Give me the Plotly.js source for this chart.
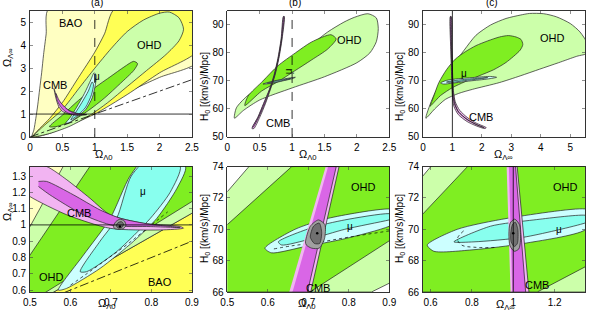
<!DOCTYPE html>
<html><head><meta charset="utf-8">
<script src="https://cdn.plot.ly/plotly-3.0.1.min.js"></script>
<style>body{margin:0;background:#fff}#c{width:590px;height:312px}</style>
</head><body><div id="c"></div>
<script>
// ---------- Panel (a): Omega_L0 vs Omega_Linf ----------
const a_baoOuterX=[0.03,0.06,0.09,0.12,0.15,0.18,0.21,0.25,0.29,2.6,2.6,2.0,1.5,1.0,0.5,0.2,0.03];
const a_baoOuterY=[0,0.3,0.8,1.4,2.1,2.8,3.6,4.5,5.6,5.6,3.3,2.6,1.95,1.25,0.55,0.15,0];
const a_baoInnerX=[0.04,0.3,0.5,0.75,1.0,1.15,1.31,2.6,2.6,2.0,1.5,1.0,0.6,0.3,0.04];
const a_baoInnerY=[0,0.8,1.5,2.6,3.7,4.5,5.6,5.6,3.8,2.8,1.85,1.0,0.5,0.15,0];
const a_ohdOuterX=[0.05,0.2,0.5,0.75,1.0,1.25,1.5,1.75,2.0,2.15,2.3,2.37,2.3,2.1,1.8,1.5,1.2,0.9,0.6,0.3,0.05];
const a_ohdOuterY=[0.02,0.45,1.2,2.1,3.0,3.85,4.6,5.1,5.4,5.45,5.2,4.7,4.2,3.6,2.9,2.2,1.5,0.9,0.45,0.15,0.02];
const a_ohdInnerX=[0.3,0.5,0.75,1.0,1.25,1.45,1.6,1.66,1.6,1.4,1.15,0.9,0.65,0.4,0.3];
const a_ohdInnerY=[0.45,0.95,1.6,2.15,2.65,3.05,3.3,3.2,2.9,2.35,1.7,1.15,0.7,0.45,0.45];
const a_muOuterX=[0.55,0.62,0.72,0.84,0.94,0.99,1.02,1.01,0.96,0.86,0.72,0.6,0.55];
const a_muOuterY=[0.6,0.85,1.3,1.9,2.5,2.8,2.7,2.3,1.7,1.2,0.85,0.62,0.6];
const a_muInnerX=[0.63,0.7,0.8,0.9,0.96,0.98,0.95,0.86,0.74,0.63];
const a_muInnerY=[0.75,1.05,1.5,2.0,2.4,2.3,1.85,1.3,0.95,0.75];
const a_cmbOuterX=[0.37,0.42,0.5,0.6,0.7,0.8,0.88,0.8,0.7,0.6,0.5,0.44,0.4,0.37];
const a_cmbOuterY=[2.12,1.7,1.38,1.17,1.05,1.0,0.98,0.95,0.95,1.0,1.12,1.35,1.7,2.12];
const a_cmbInnerX=[0.4,0.45,0.52,0.6,0.7,0.8,0.86,0.8,0.7,0.6,0.52,0.46,0.42,0.4];
const a_cmbInnerY=[1.9,1.6,1.35,1.15,1.03,0.985,0.975,0.965,0.97,1.03,1.17,1.38,1.6,1.9];

// ---------- Panel (b): Omega_L0 vs H0 ----------
const b_ohdOuterX=[0.11,0.14,0.3,0.53,0.8,1.04,1.3,1.55,1.8,1.96,2.17,2.3,2.33,2.3,2.2,2.0,1.5,1.0,0.5,0.25,0.11];
const b_ohdOuterY=[56.7,60.4,64.5,68.2,73.3,78.4,83,87.5,91,92.7,94.0,92.5,88.7,84,80,76.5,71.5,67.5,63.2,59.5,56.7];
const b_ohdInnerX=[0.27,0.32,0.55,0.78,1.05,1.3,1.6,1.68,1.55,1.3,1.04,0.8,0.53,0.27];
const b_ohdInnerY=[61.2,64.6,70,75.4,80,83.9,86.5,85,81.4,77.5,73.6,70,66.4,61.2];
const b_muOuterX=[0.55,0.7,0.85,1.0,1.05,1.0,0.85,0.7,0.55];
const b_muOuterY=[68.9,69.9,70.6,71.2,71.3,70.8,70.0,69.2,68.9];
const b_muInnerX=[0.62,0.75,0.9,0.98,0.9,0.75,0.62];
const b_muInnerY=[69.2,70.0,70.6,70.9,70.4,69.6,69.2];
const b_cmbOuterX=[0.38,0.47,0.56,0.65,0.72,0.78,0.83,0.865,0.88,0.845,0.795,0.735,0.665,0.59,0.5,0.41,0.38];
const b_cmbOuterY=[53,57,62,67,72,78,85,93,93,85,78,72,67,62,57,53,53];
const b_cmbInnerX=[0.39,0.48,0.565,0.655,0.725,0.785,0.835,0.87,0.875,0.84,0.79,0.73,0.66,0.58,0.49,0.4,0.39];
const b_cmbInnerY=[53.5,57.3,62,67,72,78,85,93,93,85,78,72,67,62,57.3,53.5,53.5];

// ---------- Panel (c): Omega_Linf vs H0 ----------
const c_ohdOuterX=[0.1,0.31,0.6,1.0,1.4,1.8,2.3,2.82,3.3,3.62,4.1,4.53,5.0,5.33,5.6,5.6,5.22,4.6,3.96,3.3,2.59,1.68,1.2,0.76,0.4,0.1];
const c_ohdOuterY=[56.7,63.4,69.5,75.4,81,86.3,90,92.3,93.5,94.1,94,92.9,90.5,87.5,83,80,78.8,76.5,74.2,71.8,69.4,67,65.5,63.4,60,56.7];
const c_ohdInnerX=[0.25,0.35,0.54,0.8,1.1,1.45,1.8,2.2,2.6,2.9,3.16,3.33,3.39,3.3,2.82,2.4,1.9,1.4,1.0,0.6,0.31,0.25];
const c_ohdInnerY=[61,64,69.4,74,77.8,80.5,82.6,84.3,85.7,86.2,85.7,84.8,83,81,76.6,74,71.8,69.6,67.6,64.8,61.6,61];
const c_muOuterX=[0.6,0.8,1.2,1.8,2.3,2.5,2.2,1.6,1.0,0.7,0.6];
const c_muOuterY=[69.3,70.2,70.8,71.3,71.6,71.3,70.7,70.0,69.2,68.9,69.3];
const c_muInnerX=[0.8,1.2,1.8,2.2,1.9,1.4,1.0,0.8];
const c_muInnerY=[69.6,70.3,70.9,71.2,70.7,70.1,69.5,69.6];
const c_cmbOuterX=[0.93,0.95,0.98,1.0,1.05,1.2,1.5,1.8,2.1,2.15,1.8,1.5,1.25,1.1,1.04,1.01,0.98,0.96,0.93];
const c_cmbOuterY=[93,80,70,65,61,58,55.5,54,53,53.3,55,57,59.5,62.5,66,72,82,93,93];
const c_cmbInnerX=[0.94,0.96,0.99,1.01,1.07,1.2,1.5,1.8,2.08,1.8,1.5,1.22,1.09,1.03,1.0,0.97,0.95,0.94];
const c_cmbInnerY=[93,80,70,65.5,61.8,59,56.2,54.5,53.3,54.5,56.3,58.8,61.8,66,72,82,93,93];

// ---------- Panel (a2) zoom ----------
const a2_paleX=[0.4,1.0,1.0,0.4], a2_paleY=[0.4,0.4,1.5,1.5];
const a2_ohdOuterX=[0.45,0.6,0.95,0.95,0.45], a2_ohdOuterY=[0.765,1.44,1.44,1.143,0.434];
const a2_ohdInnerX=[0.48,0.68,0.95,0.95,0.48], a2_ohdInnerY=[0.741,1.477,1.477,1.221,0.496];
const a2_baoInnerX=[0.45,0.95,0.95,0.45], a2_baoInnerY=[0.434,1.143,0.4,0.4];
const a2_muOuterX=[0.57,0.632,0.698,0.747,0.79,0.884,0.863,0.813,0.756,0.673,0.59,0.57];
const a2_muOuterY=[0.60,0.815,1.04,1.3,1.42,1.36,1.225,1.04,0.9,0.733,0.61,0.60];
const a2_muInnerX=[0.624,0.673,0.714,0.75,0.8,0.871,0.846,0.797,0.714,0.64,0.624];
const a2_muInnerY=[0.713,0.9,1.04,1.3,1.42,1.36,1.2,1.04,0.836,0.713,0.713];
const a2_muDotX=[0.6,0.64,0.69,0.74,0.79,0.84];
const a2_muDotY=[0.63,0.7,0.79,0.88,0.98,1.08];
const a2_cmbOuterX=[0.46,0.541,0.591,0.648,0.698,0.78,0.871,0.879,0.822,0.698,0.591,0.5,0.46];
const a2_cmbOuterY=[1.4,1.359,1.277,1.164,1.062,1.01,0.99,0.98,0.969,0.979,1.062,1.174,1.25];
const a2_cmbInnerX=[0.521,0.541,0.607,0.673,0.723,0.797,0.871,0.797,0.706,0.632,0.549,0.521];
const a2_cmbInnerY=[1.267,1.267,1.185,1.092,1.041,1.004,0.984,0.99,0.996,1.062,1.185,1.236];
const a2_grayX=[0.706,0.712,0.722,0.733,0.737,0.731,0.72,0.709,0.706];
const a2_grayY=[0.99,1.02,1.035,1.025,0.995,0.978,0.972,0.978,0.99];
const a2_dgrayX=[0.713,0.718,0.726,0.731,0.727,0.719,0.713];
const a2_dgrayY=[0.995,1.015,1.02,1.005,0.985,0.98,0.995];

// ---------- Panel (b2) zoom ----------
const b2_ohdOuterX=[0.45,0.5,0.56,0.95,0.95,0.856,0.45], b2_ohdOuterY=[71.1,72.4,74.2,74.2,67.2,66,66];
const b2_ohdInnerX=[0.45,0.5,0.659,0.95,0.95,0.704,0.45], b2_ohdInnerY=[69.1,70.3,74,74.2,70.1,66,66];
const b2_muOuterX=[0.593,0.667,0.749,0.9,0.95,0.9,0.79,0.692,0.609,0.593];
const b2_muOuterY=[68.8,70.0,70.7,71.3,71.0,70.2,69.4,68.9,68.5,68.8];
const b2_muInnerX=[0.626,0.708,0.79,0.9,0.93,0.9,0.79,0.708,0.634,0.626];
const b2_muInnerY=[69.2,70.1,70.6,71.0,70.8,70.6,70.0,69.4,69.0,69.2];
const b2_muDotX=[0.615,0.66,0.72,0.8,0.9];
const b2_muDotY=[68.75,68.95,69.15,69.5,69.9];
const b2_cmbOuterX=[0.653,0.706,0.776,0.743], b2_cmbOuterY=[66,66,74,74];
const b2_cmbInnerX=[0.661,0.698,0.769,0.749], b2_cmbInnerY=[66,66,74,74];
const b2_grayX=[0.693,0.705,0.725,0.741,0.74,0.727,0.708,0.695,0.693];
const b2_grayY=[69.2,70.2,70.6,70.3,69.4,68.8,68.8,69.0,69.2];
const b2_dgrayX=[0.705,0.713,0.727,0.733,0.728,0.715,0.705];
const b2_dgrayY=[69.5,70.2,70.4,69.8,69.1,69.1,69.5];

// ---------- Panel (c2) zoom ----------
const c2_ohdOuterX=[0.55,0.62,1.4,1.4,0.55], c2_ohdOuterY=[73.2,74.3,74.3,66,66];
const c2_ohdInnerX=[0.5,0.777,0.8,1.4,1.4,1.116,0.5], c2_ohdInnerY=[70.1,74,74.3,74.3,67.97,66,66];
const c2_muOuterX=[0.584,0.729,0.971,1.347,1.4,1.347,1.052,0.81,0.616,0.584];
const c2_muOuterY=[69.0,70.0,70.7,71.3,71.0,69.96,69.1,68.7,68.6,69.0];
const c2_muInnerX=[0.713,0.89,1.1,1.347,1.4,1.347,1.052,0.81,0.713];
const c2_muInnerY=[69.2,70.2,70.6,70.9,70.7,70.4,69.5,69.2,69.2];
const c2_muDotX=[0.76,0.73,0.75,0.82,0.92];
const c2_muDotY=[69.9,69.4,69.0,68.85,68.85];
const c2_cmbOuterX=[0.968,1.019,1.076,0.987], c2_cmbOuterY=[74,74,66,66];
const c2_cmbInnerX=[0.979,1.011,1.06,0.995], c2_cmbInnerY=[74,74,66,66];
const c2_grayX=[0.979,0.985,1.007,1.03,1.035,1.027,1.005,0.984,0.979];
const c2_grayY=[69.7,70.4,70.65,70.3,69.3,68.75,68.6,68.95,69.7];
const c2_dgrayX=[0.988,0.996,1.01,1.022,1.02,1.005,0.99,0.988];
const c2_dgrayY=[69.7,70.3,70.45,70.0,69.1,68.9,69.2,69.7];

// centre points
const bestX=[0.722,0.722,1.0], bestY=[0.99,69.75,69.75];

// tick labels
const tA_x=[0,0.5,1,1.5,2,2.5], tA_y=[0,1,2,3,4,5];
const tH_y=[50,60,70,80,90];
const tC_x=[0,1,2,3,4,5];
const tA2_x=[0.5,0.6,0.7,0.8,0.9], tA2_y=[0.6,0.7,0.8,0.9,1,1.1,1.2,1.3];
const tH2_y=[66,68,70,72,74];
const tC2_x=[0.6,0.8,1,1.2];

const C={pale:'#FFFFC2',yel:'#FFFF55',lg:'#CCFFAA',bg:'#7FEE22',lc:'#CCFFFF',cy:'#88FFEE',lp:'#F2B4F2',vp:'#D966E6',gr:'#A0A0A0',dg:'#707070'};

const traces=[];
function poly(xs,ys,col,n,spline,lc){
  traces.push({type:'scatter',mode:'lines',x:xs,y:ys,fill:'toself',fillcolor:col,
    line:{color:lc||'#222',width:0.7,shape:spline?'spline':'linear',smoothing:0.7},
    xaxis:'x'+n,yaxis:'y'+n,hoverinfo:'skip',showlegend:false});
}
function line(xs,ys,n,dash,w,spline){
  traces.push({type:'scatter',mode:'lines',x:xs,y:ys,line:{color:'#000',width:w||0.8,dash:dash||'solid',shape:spline?'spline':'linear'},
    xaxis:'x'+n,yaxis:'y'+n,hoverinfo:'skip',showlegend:false});
}
function dot(x,y,n){traces.push({type:'scatter',mode:'markers',x:[x],y:[y],marker:{color:'#000',size:2.5},xaxis:'x'+n,yaxis:'y'+n,hoverinfo:'skip',showlegend:false});}

// (a)
poly(a_baoOuterX,a_baoOuterY,C.pale,'',true);
poly(a_baoInnerX,a_baoInnerY,C.yel,'',true);
poly(a_ohdOuterX,a_ohdOuterY,C.lg,'',true);
poly(a_ohdInnerX,a_ohdInnerY,C.bg,'',true);
poly(a_muOuterX,a_muOuterY,C.lc,'',true);
poly(a_muInnerX,a_muInnerY,C.cy,'',true);
poly(a_cmbOuterX,a_cmbOuterY,C.lp,'',true);
poly(a_cmbInnerX,a_cmbInnerY,C.vp,'',true);
line([1,1],[0,5.5],'','dash');
line([0,2.5],[1,1],'');
line([0,2.5],[0,2.5],'','dashdot');
// (b)
poly(b_ohdOuterX,b_ohdOuterY,C.lg,'2',true);
poly(b_ohdInnerX,b_ohdInnerY,C.bg,'2',true);
poly(b_muOuterX,b_muOuterY,C.lc,'2',true);
poly(b_muInnerX,b_muInnerY,C.cy,'2',true);
poly(b_cmbOuterX,b_cmbOuterY,C.lp,'2',true);
poly(b_cmbInnerX,b_cmbInnerY,C.vp,'2',true);
line([1,1],[50,95],'2','dash');
// (c)
poly(c_ohdOuterX,c_ohdOuterY,C.lg,'3',true);
poly(c_ohdInnerX,c_ohdInnerY,C.bg,'3',true);
poly(c_muOuterX,c_muOuterY,C.lc,'3',true);
poly(c_muInnerX,c_muInnerY,C.cy,'3',true);
poly(c_cmbOuterX,c_cmbOuterY,C.lp,'3',true);
poly(c_cmbInnerX,c_cmbInnerY,C.vp,'3',true);
line([1,1],[50,95],'3');
// (a2)
poly(a2_paleX,a2_paleY,C.pale,'4',false);
poly(a2_baoInnerX,a2_baoInnerY,C.yel,'4',false);
poly(a2_ohdOuterX,a2_ohdOuterY,C.lg,'4',false);
poly(a2_ohdInnerX,a2_ohdInnerY,C.bg,'4',false);
poly(a2_muOuterX,a2_muOuterY,C.lc,'4',true);
poly(a2_muInnerX,a2_muInnerY,C.cy,'4',true);
line(a2_muDotX,a2_muDotY,'4','dot',0.7,true);
poly(a2_cmbOuterX,a2_cmbOuterY,C.lp,'4',true);
poly(a2_cmbInnerX,a2_cmbInnerY,C.vp,'4',true);
poly(a2_grayX,a2_grayY,C.gr,'4',true);
poly(a2_dgrayX,a2_dgrayY,C.dg,'4',true);
line([0.5,0.9],[1,1],'4');
line([0.5,0.9],[0.5,0.9],'4','dashdot');
dot(bestX[0],bestY[0],'4');
// (b2)
poly(b2_ohdOuterX,b2_ohdOuterY,C.lg,'5',false);
poly(b2_ohdInnerX,b2_ohdInnerY,C.bg,'5',false);
poly(b2_muOuterX,b2_muOuterY,C.lc,'5',true);
poly(b2_muInnerX,b2_muInnerY,C.cy,'5',true);
line(b2_muDotX,b2_muDotY,'5','dot',0.7,true);
poly(b2_cmbOuterX,b2_cmbOuterY,C.lp,'5',false);
poly(b2_cmbInnerX,b2_cmbInnerY,C.vp,'5',false);
poly(b2_grayX,b2_grayY,C.gr,'5',true);
poly(b2_dgrayX,b2_dgrayY,C.dg,'5',true);
dot(bestX[1],bestY[1],'5');
// (c2)
poly(c2_ohdOuterX,c2_ohdOuterY,C.lg,'6',false);
poly(c2_ohdInnerX,c2_ohdInnerY,C.bg,'6',false);
poly(c2_muOuterX,c2_muOuterY,C.lc,'6',true);
poly(c2_muInnerX,c2_muInnerY,C.cy,'6',true);
line(c2_muDotX,c2_muDotY,'6','dot',0.7,true);
poly(c2_cmbOuterX,c2_cmbOuterY,C.lp,'6',false);
poly(c2_cmbInnerX,c2_cmbInnerY,C.vp,'6',false);
poly(c2_grayX,c2_grayY,C.gr,'6',true);
poly(c2_dgrayX,c2_dgrayY,C.dg,'6',true);
line([1,1],[66,74],'6');
dot(bestX[2],bestY[2],'6');

const F='Liberation Sans, Arial, sans-serif';
function ax(dom,range,tv,anchor){
  return {domain:dom,range:range,tickvals:tv,ticktext:tv.map(String),ticks:'inside',ticklen:3,tickwidth:0.6,
    mirror:'allticks',showline:true,linecolor:'#000',linewidth:0.8,showgrid:false,zeroline:false,
    tickfont:{family:F,size:10,color:'#000'},anchor:anchor,fixedrange:true,ticklabelstandoff:1};
}
const X1=[0.0508,0.3254],X2=[0.3853,0.6598],X3=[0.7168,0.9915];
const YT=[0.561,0.965],YB=[0.064,0.466];
const layout={width:590,height:312,margin:{l:0,r:0,t:0,b:0},paper_bgcolor:'#fff',plot_bgcolor:'#fff',showlegend:false,
  xaxis:ax(X1,[0,2.5],tA_x,'y'), yaxis:ax(YT,[0,5.5],tA_y,'x'),
  xaxis2:ax(X2,[0,2.5],tA_x,'y2'), yaxis2:ax(YT,[50,95],tH_y,'x2'),
  xaxis3:ax(X3,[0,5.5],tC_x,'y3'), yaxis3:ax(YT,[50,95],tH_y,'x3'),
  xaxis4:ax(X1,[0.5,0.9],tA2_x,'y4'), yaxis4:ax(YB,[0.588,1.358],tA2_y,'x4'),
  xaxis5:ax(X2,[0.5,0.9],tA2_x,'y5'), yaxis5:ax(YB,[66,74],tH2_y,'x5'),
  xaxis6:ax(X3,[0.563,1.347],tC2_x,'y6'), yaxis6:ax(YB,[66,74],tH2_y,'x6'),
  annotations:[]};
function txt(t,x,y,n,size,extra){layout.annotations.push(Object.assign({text:t,x:x,y:y,xref:'x'+n,yref:'y'+n,xanchor:'center',yanchor:'middle',showarrow:false,font:{family:F,size:size||11,color:'#000'}},extra||{}));}
function ptxt(t,px,py,size,angle){layout.annotations.push({text:t,x:px/590,y:1-py/312,xref:'paper',yref:'paper',xanchor:'center',yanchor:'middle',showarrow:false,textangle:angle||0,font:{family:F,size:size||11,color:'#000'}});}
// region labels
txt('BAO',0.64,4.96,'');txt('OHD',1.85,4.02,'');txt('CMB',0.38,2.27,'');txt('μ',1.03,2.62,'',10);
txt('OHD',1.89,84.5,'2');txt('CMB',0.78,55,'2');txt('μ',0.94,73.5,'2',10,{textangle:-90});
txt('OHD',4.4,85.5,'3');txt('CMB',1.96,57.1,'3');txt('μ',1.39,72.6,'3',10);
txt('CMB',0.621,1.076,'4');txt('OHD',0.554,0.68,'4');txt('BAO',0.822,0.65,'4');txt('μ',0.78,1.205,'4',10);
txt('OHD',0.836,72.7,'5');txt('μ',0.803,70.17,'5',10);txt('CMB',0.725,66.25,'5');
txt('OHD',1.253,72.7,'6');txt('μ',1.221,70.0,'6',10);txt('CMB',1.116,66.45,'6');
// panel letters
ptxt('(a)',97,3,10);ptxt('(b)',295,3,10);ptxt('(c)',492,3,10);
// axis titles
const OL0='Ω<sub>Λ0</sub>', OLI='Ω<sub>Λ∞</sub>', H0='H<sub>0</sub> [(km/s)/Mpc]';
ptxt(OL0,104,155,11);ptxt(OL0,308,155,11);ptxt(OLI,503,155,11);
ptxt(OL0,107,304,11);ptxt(OL0,307,304,11);ptxt(OLI,505,305,11);
ptxt(OLI,8,58,11,-90);ptxt(H0,205,87,10,-90);ptxt(H0,400,87,10,-90);
ptxt(OLI,8,212,11,-90);ptxt(H0,205,229,10,-90);ptxt(H0,400,229,10,-90);
Plotly.newPlot('c',traces,layout,{staticPlot:true});
</script></body></html>
